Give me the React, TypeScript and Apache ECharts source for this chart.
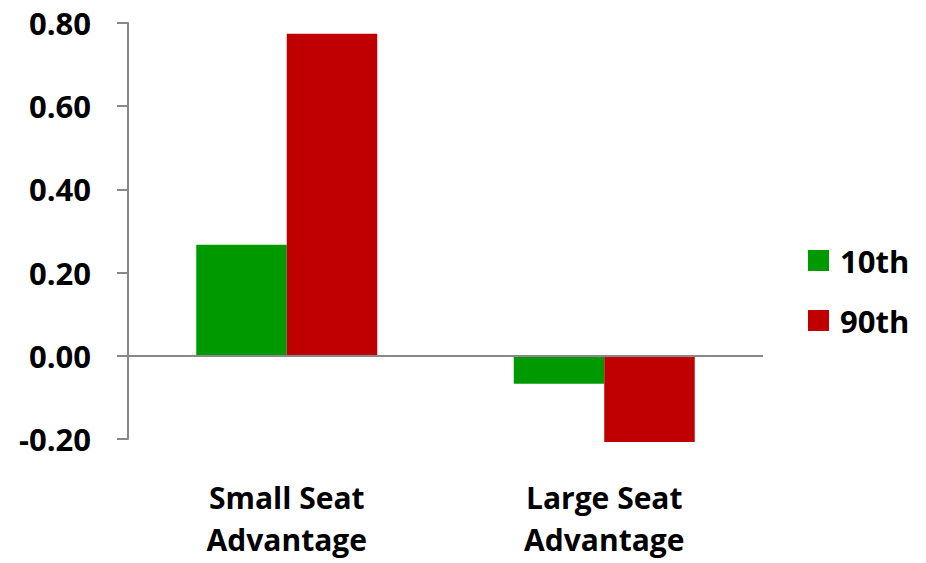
import React, { useEffect, useRef } from "react";
import * as echarts from "echarts";

const categories = ["Small Seat\nAdvantage", "Large Seat\nAdvantage"];
const seriesNames = ["10th", "90th"];
const tenthValues = [0.267, -0.067];
const ninetiethValues = [0.774, -0.207];
const seriesColors = ["#009900", "#C00000"];
const yMin = -0.2;
const yMax = 0.8;
const yStep = 0.2;

const FONT = "'Open Sans', 'DejaVu Sans', sans-serif";
const AXIS_GRAY = "#898989";

export default function App() {
  const ref = useRef<HTMLDivElement>(null);

  useEffect(() => {
    if (!ref.current) return;
    const chart = echarts.init(ref.current, null, { renderer: "svg" });
    const values = [tenthValues, ninetiethValues];
    chart.setOption({
      animation: false,
      backgroundColor: "#ffffff",
      grid: { left: 128, right: 163, top: 23, bottom: 124, containLabel: false },
      legend: {
        orient: "vertical",
        left: 808,
        top: 245,
        padding: 0,
        itemWidth: 21,
        itemHeight: 21,
        itemGap: 29,
        icon: "rect",
        textStyle: {
          fontFamily: FONT,
          fontWeight: "bold",
          fontSize: 31,
          lineHeight: 31,
          color: "#000",
          padding: [0, 0, 0, 6],
        },
        data: seriesNames,
      },
      xAxis: {
        type: "category",
        data: categories,
        axisLine: { show: false, onZero: false },
        axisTick: { show: false },
        axisLabel: {
          margin: 37,
          fontFamily: FONT,
          fontWeight: "bold",
          fontSize: 30,
          lineHeight: 42,
          color: "#000",
          interval: 0,
        },
      },
      yAxis: {
        type: "value",
        min: yMin,
        max: yMax,
        interval: yStep,
        splitLine: { show: false },
        axisLine: { show: true, lineStyle: { color: AXIS_GRAY, width: 2 } },
        axisTick: { show: true, inside: false, length: 11, lineStyle: { color: AXIS_GRAY, width: 2 } },
        axisLabel: {
          margin: 37,
          fontFamily: FONT,
          fontWeight: "bold",
          fontSize: 31,
          color: "#000",
          formatter: (v: number) => (Math.abs(v) < 1e-9 ? 0 : v).toFixed(2),
        },
      },
      series: seriesNames.map((name, i) => ({
        name,
        type: "bar",
        data: values[i],
        clip: false,
        barGap: "0%",
        barCategoryGap: "43%",
        itemStyle: { color: seriesColors[i] },
        markLine:
          i === 0
            ? {
                silent: true,
                symbol: "none",
                label: { show: false },
                lineStyle: { color: AXIS_GRAY, width: 2, type: "solid" },
                data: [{ yAxis: 0 }],
              }
            : undefined,
      })),
    });
    return () => chart.dispose();
  }, []);

  return (
    <div
      ref={ref}
      style={{ position: "absolute", left: 0, top: 0, width: 926, height: 563 }}
    />
  );
}
